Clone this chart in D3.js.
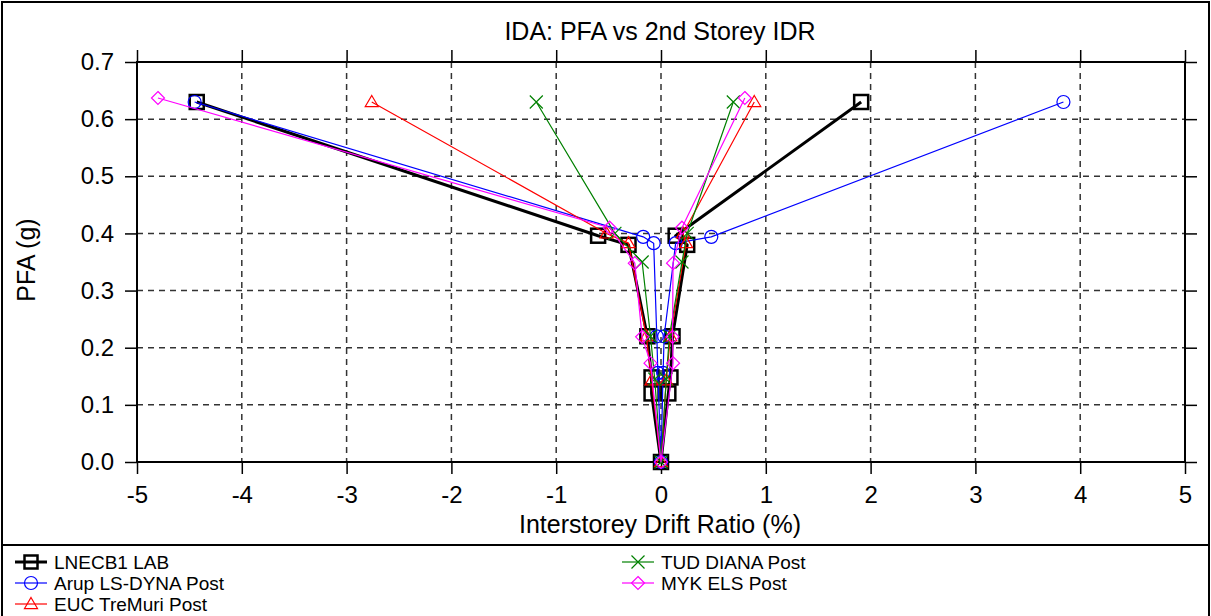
<!DOCTYPE html>
<html>
<head>
<meta charset="utf-8">
<script src="https://cdn.jsdelivr.net/npm/d3@7"></script>
<style>
	body { margin: 0; background: #fff; }
	svg { font-family: "Liberation Sans", Arial, sans-serif; }
	.grid line { stroke: #333; stroke-width: 1.5; stroke-dasharray: 6,5; }
</style>
</head>
<body>
<svg id="chart" width="1211" height="616"></svg>
<script>

// x axis ticks / y axis ticks
const xTicks = [-5, -4, -3, -2, -1, 0, 1, 2, 3, 4, 5];
const yTicks = [0, 0.1, 0.2, 0.3, 0.4, 0.5, 0.6, 0.7];

// LNECB1 LAB
const lnecPfa = [0, 0.12, 0.148, 0.22, 0.38, 0.396, 0.63];
const lnecMin = [0, -0.09, -0.09, -0.13, -0.31, -0.60, -4.43];
const lnecMax = [0, 0.07, 0.09, 0.11, 0.25, 0.14, 1.91];

// Arup LS-DYNA Post
const arupPfa = [0, 0.156, 0.22, 0.383, 0.394, 0.63];
const arupMin = [0, -0.03, -0.04, -0.07, -0.17, -4.45];
const arupMax = [0, 0.02, 0.03, 0.14, 0.48, 3.84];

// EUC TreMuri Post
const eucPfa = [0, 0.143, 0.22, 0.383, 0.40, 0.63];
const eucMin = [0, -0.09, -0.14, -0.31, -0.52, -2.76];
const eucMax = [0, 0.05, 0.09, 0.24, 0.21, 0.89];

// TUD DIANA Post
const tudPfa = [0, 0.145, 0.22, 0.35, 0.40, 0.63];
const tudMin = [0, -0.06, -0.10, -0.18, -0.44, -1.19];
const tudMax = [0, 0.05, 0.08, 0.20, 0.25, 0.69];

// MYK ELS Post
const mykPfa = [0, 0.173, 0.219, 0.348, 0.41, 0.637];
const mykMin = [0, -0.10, -0.18, -0.25, -0.49, -4.80];
const mykMax = [0, 0.115, 0.11, 0.115, 0.20, 0.80];

const seriesNames = ["LNECB1 LAB", "Arup LS-DYNA Post", "EUC TreMuri Post", "TUD DIANA Post", "MYK ELS Post"];

function branchPoints(pfa, mins, maxs) {
	// left branch from top down, then right branch back up
	const pts = [];
	for (let i = pfa.length - 1; i >= 0; i--) pts.push([mins[i], pfa[i]]);
	for (let i = 1; i < pfa.length; i++) pts.push([maxs[i], pfa[i]]);
	return pts;
}

const series = [
	{name: seriesNames[0], pts: branchPoints(lnecPfa, lnecMin, lnecMax), color: "#000000", width: 3, marker: "square"},
	{name: seriesNames[1], pts: branchPoints(arupPfa, arupMin, arupMax), color: "#0000ff", width: 1.2, marker: "circle"},
	{name: seriesNames[2], pts: branchPoints(eucPfa, eucMin, eucMax), color: "#ff0000", width: 1.2, marker: "triangle"},
	{name: seriesNames[3], pts: branchPoints(tudPfa, tudMin, tudMax), color: "#008000", width: 1.2, marker: "cross"},
	{name: seriesNames[4], pts: branchPoints(mykPfa, mykMin, mykMax), color: "#ff00ff", width: 1.2, marker: "diamond"}
];

const svg = d3.select("#chart");
const plotLeft = 137, plotRight = 1185, plotTop = 62, plotBottom = 462;

const x = d3.scaleLinear().domain([-5, 5]).range([plotLeft, plotRight]);
const y = d3.scaleLinear().domain([0, 0.7]).range([plotBottom, plotTop]);

// outer frame
svg.append("rect")
	.attr("x", 2).attr("y", 2)
	.attr("width", 1207).attr("height", 630)
	.attr("fill", "none").attr("stroke", "#000").attr("stroke-width", 2);
svg.append("line")
	.attr("x1", 2).attr("x2", 1209).attr("y1", 545).attr("y2", 545)
	.attr("stroke", "#000").attr("stroke-width", 2);

// grid
const grid = svg.append("g").attr("class", "grid");
grid.selectAll(".vx").data(xTicks.slice(1, -1)).enter().append("line")
	.attr("x1", d => x(d)).attr("x2", d => x(d)).attr("y1", plotTop).attr("y2", plotBottom);
grid.selectAll(".hy").data(yTicks.slice(1, -1)).enter().append("line")
	.attr("x1", plotLeft).attr("x2", plotRight).attr("y1", d => y(d)).attr("y2", d => y(d));

// axes, ticks outward on all four sides
const tickLen = 12;
const axStyle = g => {
	g.select(".domain").remove();
	g.selectAll(".tick line").attr("stroke", "#000").attr("stroke-width", 1.5);
	g.selectAll(".tick text").attr("fill", "#000").style("font-size", "24px");
};
svg.append("g").attr("transform", `translate(0,${plotBottom})`)
	.call(d3.axisBottom(x).tickValues(xTicks).tickSize(tickLen).tickPadding(12).tickFormat(d => d < 0 ? "-" + Math.abs(d) : String(d)))
	.call(axStyle);
svg.append("g").attr("transform", `translate(0,${plotTop})`)
	.call(d3.axisTop(x).tickValues(xTicks).tickSize(tickLen).tickFormat(""))
	.call(axStyle);
svg.append("g").attr("transform", `translate(${plotLeft},0)`)
	.call(d3.axisLeft(y).tickValues(yTicks).tickSize(tickLen).tickPadding(11).tickFormat(d3.format(".1f")))
	.call(axStyle);
svg.append("g").attr("transform", `translate(${plotRight},0)`)
	.call(d3.axisRight(y).tickValues(yTicks).tickSize(tickLen).tickFormat(""))
	.call(axStyle);

svg.append("rect")
	.attr("x", plotLeft).attr("y", plotTop).attr("width", plotRight - plotLeft).attr("height", plotBottom - plotTop)
	.attr("fill", "none").attr("stroke", "#000").attr("stroke-width", 2);

// markers
function drawMarker(g, type, color, cx, cy, big) {
	const s = big ? 7 : 6.5;
	if (type === "square") {
		g.append("rect").attr("x", cx - s).attr("y", cy - s).attr("width", 2 * s).attr("height", 2 * s)
			.attr("fill", "none").attr("stroke", color).attr("stroke-width", 2.5);
	} else if (type === "circle") {
		g.append("circle").attr("cx", cx).attr("cy", cy).attr("r", s)
			.attr("fill", "none").attr("stroke", color).attr("stroke-width", 1.2);
	} else if (type === "triangle") {
		g.append("path").attr("d", `M${cx},${cy - s}L${cx + s},${cy + s * 0.7}L${cx - s},${cy + s * 0.7}Z`)
			.attr("fill", "none").attr("stroke", color).attr("stroke-width", 1.2);
	} else if (type === "diamond") {
		g.append("path").attr("d", `M${cx},${cy - s}L${cx + s},${cy}L${cx},${cy + s}L${cx - s},${cy}Z`)
			.attr("fill", "none").attr("stroke", color).attr("stroke-width", 1.2);
	} else if (type === "cross") {
		g.append("path").attr("d", `M${cx - s},${cy - s}L${cx + s},${cy + s}M${cx - s},${cy + s}L${cx + s},${cy - s}`)
			.attr("fill", "none").attr("stroke", color).attr("stroke-width", 1.2);
	}
}

const line = d3.line().x(d => x(d[0])).y(d => y(d[1]));

series.forEach(s => {
	const g = svg.append("g");
	g.append("path").datum(s.pts).attr("d", line)
		.attr("fill", "none").attr("stroke", s.color).attr("stroke-width", s.width)
		.attr("stroke-linejoin", "round");
	s.pts.forEach(p => drawMarker(g, s.marker, s.color, x(p[0]), y(p[1]), s.marker === "square"));
});

// title and axis labels
svg.append("text").attr("x", 660).attr("y", 40).attr("text-anchor", "middle")
	.style("font-size", "25px").text("IDA: PFA vs 2nd Storey IDR");
svg.append("text").attr("x", 660).attr("y", 533).attr("text-anchor", "middle")
	.style("font-size", "25px").text("Interstorey Drift Ratio (%)");
svg.append("text").attr("transform", "translate(35,260) rotate(-90)").attr("text-anchor", "middle")
	.style("font-size", "25px").text("PFA (g)");

// legend
const legendPos = [[15, 562], [15, 583], [15, 604], [622, 562], [622, 583]];
series.forEach((s, i) => {
	const [lx, ly] = legendPos[i];
	const g = svg.append("g");
	g.append("line").attr("x1", lx).attr("x2", lx + 32).attr("y1", ly).attr("y2", ly)
		.attr("stroke", s.color).attr("stroke-width", s.width);
	drawMarker(g, s.marker, s.color, lx + 16, ly, false);
	g.append("text").attr("x", lx + 39).attr("y", ly + 7)
		.style("font-size", "19px").text(s.name);
});

</script>
</body>
</html>
